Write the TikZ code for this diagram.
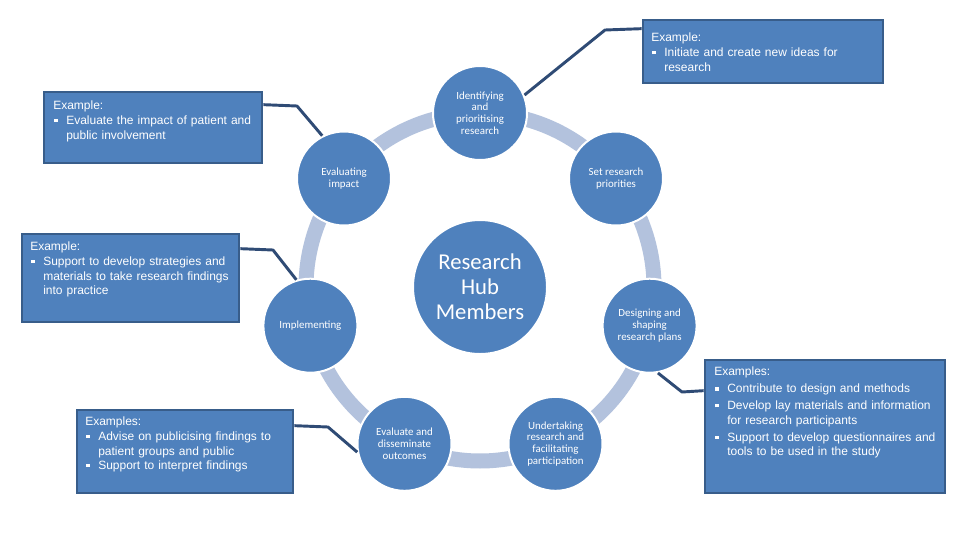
\documentclass[tikz,border=0pt]{standalone}
\usepackage{fontspec}
\setmainfont{Liberation Sans}
\newfontfamily\cali{Carlito}
\usetikzlibrary{calc}
\definecolor{hubblue}{HTML}{4F81BD}
\definecolor{boxedge}{HTML}{385D8A}
\definecolor{connc}{HTML}{2F4B75}
\definecolor{ringc}{HTML}{B3C2DD}
\newcommand{\bitem}[1]{\par\hangindent=9.75pt\hangafter=1\noindent\makebox[9.75pt][l]{\hspace{0.9pt}\raisebox{1.8pt}{\rule{2.3pt}{2.3pt}}}#1\par}
\begin{document}
\begin{tikzpicture}[x=0.75pt,y=-0.75pt,
  stage/.style={circle,fill=hubblue,draw=white,line width=1.5pt,minimum size=70.5pt,inner sep=0pt,text=white,align=center,font=\cali\fontsize{8.2}{8.8}\selectfont},
  hub/.style={circle,fill=hubblue,draw=white,line width=1.5pt,minimum size=100.5pt,inner sep=0pt,text=white,align=center,font=\cali\fontsize{17}{18.75}\selectfont},
  exbox/.style={rectangle,fill=hubblue,draw=boxedge,line width=2pt,inner sep=0pt},
  extext/.style={anchor=north west,inner sep=0pt,text=white,align=left,font=\fontsize{9}{10.9}\selectfont},
  conn/.style={draw=connc,line width=2.2pt,line join=round},
  ringseg/.style={draw=ringc,line width=11.25pt}
]
\fill[white] (0,0) rectangle (960,540);
\useasboundingbox (0,0) rectangle (960,540);

% example boxes
\node[exbox,minimum width=180pt,minimum height=47.25pt] (tr) at (763,51.5) {};
\node[exbox,minimum width=163.5pt,minimum height=53.25pt] (tl) at (153,127.5) {};
\node[exbox,minimum width=162.75pt,minimum height=66pt] (l) at (130.5,278) {};
\node[exbox,minimum width=162pt,minimum height=62.25pt] (bl) at (185,451.5) {};
\node[exbox,minimum width=180pt,minimum height=99.75pt] (br) at (825,426.5) {};

\node[extext,text width=172pt] (trt) at (651,33) {Example:\bitem{Initiate and create new ideas for\newline research}};
\node[extext,text width=160pt] (tlt) at (53,101) {Example:\bitem{Evaluate the impact of patient and\newline public involvement}};
\node[extext,text width=158pt] (lt) at (30,242) {Example:\bitem{Support to develop strategies and\newline materials to take research findings\newline into practice}};
\node[extext,text width=158pt] (blt) at (85,417) {Examples:\bitem{Advise on publicising findings to\newline patient groups and public}\bitem{Support to interpret findings}};
\node[extext,text width=175pt] (brt) at (714,367) {\setlength{\parskip}{1.8pt}Examples:\bitem{Contribute to design and methods}\bitem{Develop lay materials and information\newline for research participants}\bitem{Support to develop questionnaires and\newline tools to be used in the study}};

% ring
\coordinate (C) at (480,287);
\foreach \a in {90,38.571,-12.857,-64.286,-115.714,-167.143,141.429}{
  \draw[ringseg] (C) ++({\a-14}:130.5pt) arc[start angle={\a-14}, end angle={\a-37.429}, radius=130.5pt];
}

% stage circles
\node[hub] (hub) at (480,287) {Research\\Hub\\Members};
\node[stage] (ident) at (480,113) {Identifying\\and\\prioritising\\research};
\node[stage] (setp) at (616.0,178.5) {Set research\\priorities};
\node[stage] (des) at (649.6,325.7) {Designing and\\shaping\\research plans};
\node[stage] (und) at (555.5,443.8) {Undertaking\\research and\\facilitating\\participation};
\node[stage] (evd) at (404.5,443.8) {Evaluate and\\disseminate\\outcomes};
\node[stage] (impl) at (310.4,325.7) {Implementing};
\node[stage] (evimp) at (344.0,178.5) {Evaluating\\impact};

% connectors
\draw[conn] ($(tr.north west)+(0,10)$) -- (605,30) -- (ident.22);
\draw[conn] ($(tl.north east)+(0,14)$) -- (297,106) -- (evimp.117);
\draw[conn] ($(l.north east)+(0,16)$) -- (273,250) -- (impl.107);
\draw[conn] ($(bl.north east)+(0,17)$) -- (328,427) -- (evd.190);
\draw[conn] ($(br.north west)+(0,32)$) -- (682,392) -- (des.-80);
\end{tikzpicture}
\end{document}
